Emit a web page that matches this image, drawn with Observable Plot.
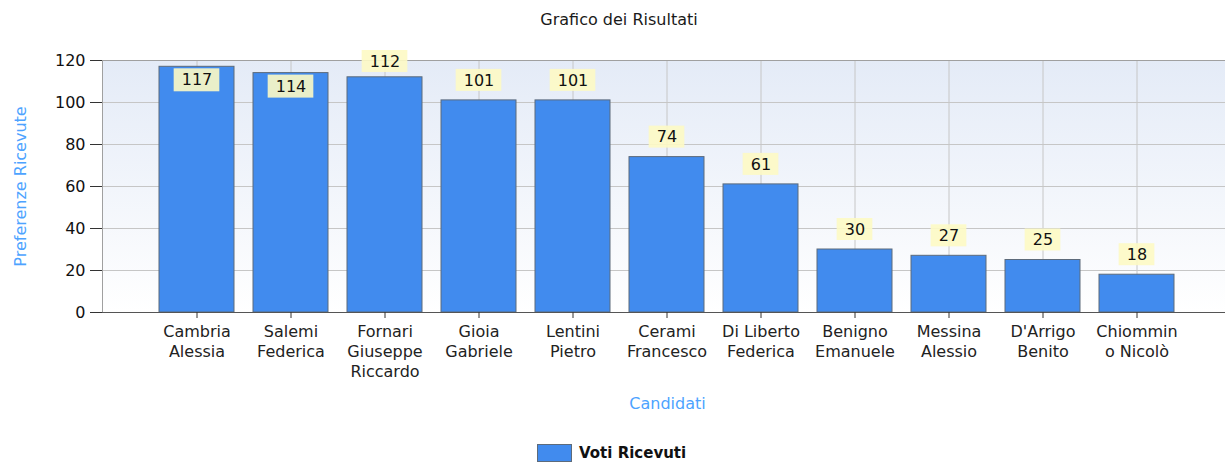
<!DOCTYPE html>
<html><head><meta charset="utf-8">
<script src="https://cdn.jsdelivr.net/npm/d3@7"></script>
<script src="https://cdn.jsdelivr.net/npm/@observablehq/plot@0.6"></script>
<style>
html,body{margin:0;padding:0;background:#fff;overflow:hidden;}
body{width:1232px;height:463px;position:relative;font-family:"DejaVu Sans",sans-serif;}
#title{position:absolute;top:0;left:0;width:1238px;height:40px;line-height:40px;text-align:center;font-size:16px;color:#1a1a1a;}
#chart{position:absolute;top:40px;left:0;}
#legend{position:absolute;left:537px;top:444px;display:flex;align-items:center;font-weight:bold;font-size:15px;color:#111;}
.sw{display:inline-block;width:33px;height:16px;background:#418bee;border:1px solid #5d6b7b;margin-right:7px;}
</style></head><body>
<div id="title"></div>
<div id="chart"></div>
<div id="legend"><span class="sw"></span><span id="legendText"></span></div>
<script>
const chartTitle = "Grafico dei Risultati";
const xLabel = "Candidati";
const yLabel = "Preferenze Ricevute";
const seriesName = "Voti Ricevuti";
const candidates = [
  "Cambria\nAlessia", "Salemi\nFederica", "Fornari\nGiuseppe\nRiccardo", "Gioia\nGabriele",
  "Lentini\nPietro", "Cerami\nFrancesco", "Di Liberto\nFederica", "Benigno\nEmanuele",
  "Messina\nAlessio", "D'Arrigo\nBenito", "Chiommin\no Nicolò"
];
const votes = [117, 114, 112, 101, 101, 74, 61, 30, 27, 25, 18];
const yTicks = [0, 20, 40, 60, 80, 100, 120];

document.getElementById("title").textContent = chartTitle;
document.getElementById("legendText").textContent = seriesName;

const data = candidates.map((c, i) => ({name: c, value: votes[i]}));
const isInside = d => d.value >= 114;
const anchorY = d => Math.min(d.value, 110);
const digits = d => String(d.value).length;

const boxFill = "#fdfac4";
const bw = 1130 / 12 * 0.8;
const inset3 = (bw - 46) / 2, inset2 = (bw - 36) / 2;

function boxes(filter, yAcc, insetTop, insetBottom) {
  return [3, 2].map(n => Plot.barY(data.filter(d => filter(d) && digits(d) === n), {
    x: "name", y1: yAcc, y2: yAcc, fill: boxFill, fillOpacity: 0.9,
    insetTop, insetBottom, insetLeft: n === 3 ? inset3 : inset2, insetRight: n === 3 ? inset3 : inset2
  }));
}

const defs = () => {
  const d = d3.create("svg:defs");
  const g = d.append("linearGradient").attr("id", "bgGrad").attr("x1", 0).attr("y1", 0).attr("x2", 0).attr("y2", 1);
  g.append("stop").attr("offset", "0%").attr("stop-color", "#e4ebf7");
  g.append("stop").attr("offset", "100%").attr("stop-color", "#ffffff");
  return d.node();
};

const chart = Plot.plot({
  width: 1232,
  height: 390,
  marginTop: 20,
  marginLeft: 102,
  marginRight: 0,
  marginBottom: 118,
  style: {fontFamily: "DejaVu Sans", fontSize: "16px", color: "#1a1a1a", background: "transparent", overflow: "visible"},
  x: {domain: candidates, paddingInner: 0.2, paddingOuter: 0.6, align: 0.5, label: null},
  y: {domain: [0, 120], label: null},
  marks: [
    defs,
    Plot.frame({fill: "url(#bgGrad)", stroke: null}),
    Plot.gridY(yTicks, {stroke: "#c6c6c6", strokeOpacity: 1}),
    Plot.gridX({stroke: "#c6c6c6", strokeOpacity: 1}),
    Plot.frame({stroke: "#a0a0a0"}),
    Plot.barY(data, {x: "name", y: "value", fill: "#418bee", stroke: "#5d6b7b", strokeWidth: 1}),
    Plot.ruleY([0], {stroke: "#555"}),
    ...boxes(d => !isInside(d), anchorY, -31, 9),
    ...boxes(isInside, "value", 2, -25),
    Plot.text(data.filter(d => !isInside(d)), {x: "name", y: anchorY, text: d => String(d.value), dy: -20, fill: "#111", fontSize: 16}),
    Plot.text(data.filter(isInside), {x: "name", y: "value", text: d => String(d.value), dy: 13.5, fill: "#111", fontSize: 16}),
    Plot.axisY({ticks: yTicks, tickSize: 12, tickPadding: 5, fontSize: 16, label: null, stroke: "#333", fill: "#111"}),
    Plot.axisX({tickSize: 6, tickPadding: 4, fontSize: 16, lineHeight: 1.25, label: null, stroke: "#333", fill: "#222"}),
    Plot.text([xLabel], {frameAnchor: "bottom", dy: 96, fill: "#4da3ff", fontSize: 16}),
    Plot.text([yLabel], {frameAnchor: "left", textAnchor: "middle", rotate: -90, dx: -82, fill: "#4da3ff", fontSize: 16})
  ]
});
document.getElementById("chart").appendChild(chart);
</script>
</body></html>
